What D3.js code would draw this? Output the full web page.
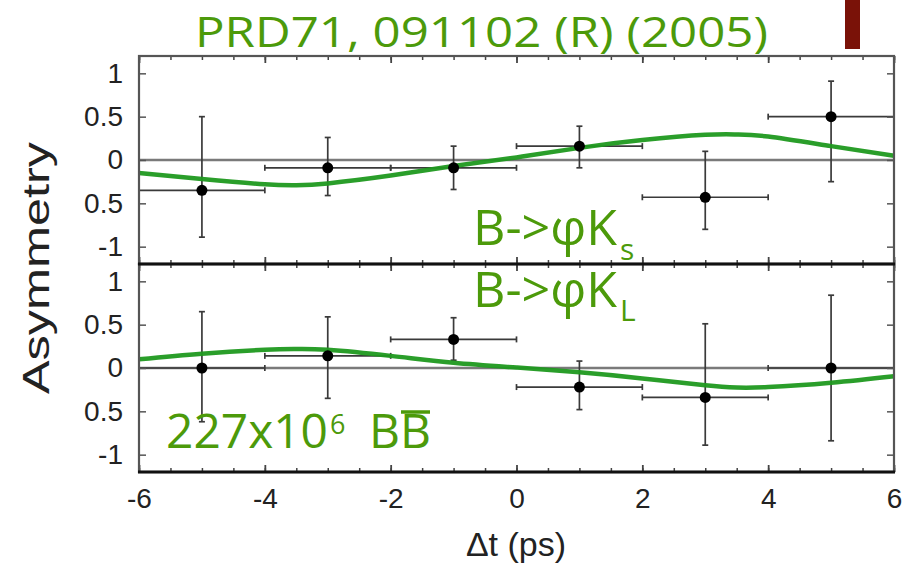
<!DOCTYPE html>
<html>
<head>
<meta charset="utf-8">
<script src="https://cdn.jsdelivr.net/npm/d3@7"></script>
<style>
  body { margin: 0; background: #fff; }
  svg { display: block; }
</style>
</head>
<body>
<script>
// bins in delta t (ps)
const binCenters = [-5, -3, -1, 1, 3, 5];
const binHalf = [1, 1, 1, 1, 1, 1];

// B -> phi Ks
const ksAsym = [-0.35, -0.09, -0.09, 0.16, -0.43, 0.50];
const ksHi   = [0.50, 0.26, 0.16, 0.39, 0.10, 0.91];
const ksLo   = [-0.89, -0.41, -0.34, -0.09, -0.80, -0.25];

// B -> phi KL
const klAsym = [0.00, 0.14, 0.33, -0.22, -0.34, 0.00];
const klHi   = [0.65, 0.59, 0.58, 0.08, 0.51, 0.84];
const klLo   = [-0.62, -0.35, 0.09, -0.48, -0.89, -0.84];

// fitted curves
const fitT  = [-6, -5, -4, -3.5, -3, -2, -1, 0, 1, 2, 3, 3.5, 4, 5, 6];
const ksFit = [-0.15, -0.22, -0.28, -0.29, -0.27, -0.18, -0.07, 0.03, 0.14, 0.23, 0.29, 0.295, 0.27, 0.16, 0.05];
const klFit = [0.10, 0.165, 0.21, 0.22, 0.21, 0.14, 0.06, 0.005, -0.05, -0.12, -0.20, -0.225, -0.22, -0.17, -0.095];

const xTicks = [-6, -4, -2, 0, 2, 4, 6];
const yTicks = [-1, -0.5, 0, 0.5, 1];
const yTickText = ['-1', '0.5', '0', '0.5', '1'];

const width = 910, height = 565;
const svg = d3.select('body').append('svg')
    .attr('width', width)
    .attr('height', height);

const x = d3.scaleLinear().domain([-6, 6]).range([139, 894]);
const yTop = d3.scaleLinear().domain([-1.2, 1.2]).range([264, 56]);
const yBot = d3.scaleLinear().domain([-1.2, 1.2]).range([472, 264]);

const labelFont = "'Liberation Sans', Arial, Helvetica, sans-serif";
const greenFont = "'Comic Sans MS', 'Open Sans', sans-serif";
const green = '#4c9a0a';

function panel(y, vals, hi, lo, fit) {
    const g = svg.append('g');

    // zero line
    g.append('line')
        .attr('x1', x(-6)).attr('x2', x(6))
        .attr('y1', y(0)).attr('y2', y(0))
        .attr('stroke', '#7a7a7a').attr('stroke-width', 2.5);

    const pts = binCenters.map((c, i) => ({c, h: binHalf[i], v: vals[i], hi: hi[i], lo: lo[i]}));
    const err = g.selectAll('g.err').data(pts).enter().append('g')
        .attr('stroke', '#3a3a3a').attr('stroke-width', 1.7);
    err.append('line')
        .attr('x1', d => x(d.c - d.h)).attr('x2', d => x(d.c + d.h))
        .attr('y1', d => y(d.v)).attr('y2', d => y(d.v));
    err.append('line')
        .attr('x1', d => x(d.c)).attr('x2', d => x(d.c))
        .attr('y1', d => y(d.hi)).attr('y2', d => y(d.lo));
    // caps
    err.append('line')
        .attr('x1', d => x(d.c) - 3).attr('x2', d => x(d.c) + 3)
        .attr('y1', d => y(d.hi)).attr('y2', d => y(d.hi));
    err.append('line')
        .attr('x1', d => x(d.c) - 3).attr('x2', d => x(d.c) + 3)
        .attr('y1', d => y(d.lo)).attr('y2', d => y(d.lo));
    err.append('line')
        .attr('x1', d => x(d.c - d.h)).attr('x2', d => x(d.c - d.h))
        .attr('y1', d => y(d.v) - 3).attr('y2', d => y(d.v) + 3);
    err.append('line')
        .attr('x1', d => x(d.c + d.h)).attr('x2', d => x(d.c + d.h))
        .attr('y1', d => y(d.v) - 3).attr('y2', d => y(d.v) + 3);

    const line = d3.line()
        .x((d, i) => x(fitT[i]))
        .y(d => y(d))
        .curve(d3.curveNatural);
    g.append('path')
        .attr('d', line(fit))
        .attr('fill', 'none')
        .attr('stroke', '#1f991f')
        .attr('stroke-width', 4.5)
        .attr('stroke-opacity', 0.95);

    g.selectAll('circle').data(pts).enter().append('circle')
        .attr('cx', d => x(d.c)).attr('cy', d => y(d.v))
        .attr('r', 5.5).attr('fill', '#000');

    // ticks, pointing inward
    const top = y.range()[1], bot = y.range()[0];
    const minor = d3.range(-6, 6.01, 0.5);
    [[d3.axisTop, top], [d3.axisBottom, bot]].forEach(([ax, pos]) => {
        g.append('g').attr('transform', `translate(0,${pos})`)
            .call(ax(x).tickValues(minor).tickSize(-4).tickFormat(''))
            .call(s => s.select('.domain').remove())
            .selectAll('line').attr('stroke', '#444').attr('stroke-width', 1.5);
        g.append('g').attr('transform', `translate(0,${pos})`)
            .call(ax(x).tickValues(xTicks).tickSize(-7).tickFormat(''))
            .call(s => s.select('.domain').remove())
            .selectAll('line').attr('stroke', '#444').attr('stroke-width', 1.8);
    });
    g.append('g').attr('transform', `translate(${x(-6)},0)`)
        .call(d3.axisLeft(y).tickValues(yTicks).tickSize(-7).tickPadding(16)
            .tickFormat((d, i) => yTickText[i]))
        .call(s => s.select('.domain').remove())
        .call(s => s.selectAll('line').attr('stroke', '#555').attr('stroke-width', 1.5))
        .call(s => s.selectAll('text')
            .attr('font-family', labelFont).attr('font-size', 28).attr('fill', '#222'));
    g.append('g').attr('transform', `translate(${x(6)},0)`)
        .call(d3.axisRight(y).tickValues(yTicks).tickSize(-7).tickFormat(''))
        .call(s => s.select('.domain').remove())
        .selectAll('line').attr('stroke', '#555').attr('stroke-width', 1.5);

    // frame
    g.append('rect')
        .attr('x', x(-6)).attr('y', top)
        .attr('width', x(6) - x(-6)).attr('height', bot - top)
        .attr('fill', 'none').attr('stroke', '#555').attr('stroke-width', 2.2);
    return g;
}

panel(yTop, ksAsym, ksHi, ksLo, ksFit);
const gb = panel(yBot, klAsym, klHi, klLo, klFit);

// darker shared edges
[264, 472].forEach(v => {
    svg.append('line')
        .attr('x1', x(-6) - 1).attr('x2', x(6) + 1)
        .attr('y1', v).attr('y2', v)
        .attr('stroke', '#111').attr('stroke-width', 3);
});

// x tick labels
gb.append('g').attr('transform', 'translate(0,472)')
    .call(d3.axisBottom(x).tickValues(xTicks).tickSize(0).tickPadding(16).tickFormat(d => String(d)))
    .call(s => s.select('.domain').remove())
    .selectAll('text')
    .attr('font-family', labelFont).attr('font-size', 28).attr('fill', '#222');

// axis titles
svg.append('text')
    .attr('x', 516).attr('y', 556)
    .attr('text-anchor', 'middle')
    .attr('font-family', labelFont).attr('font-size', 34).attr('fill', '#222')
    .text('Δt (ps)');

svg.append('text')
    .attr('transform', 'translate(49,268) rotate(-90)')
    .attr('text-anchor', 'middle')
    .attr('font-family', labelFont).attr('font-size', 36).attr('fill', '#222')
    .attr('textLength', 252).attr('lengthAdjust', 'spacingAndGlyphs')
    .text('Asymmetry');

// slide annotations
svg.append('rect')
    .attr('x', 845).attr('y', 0).attr('width', 15).attr('height', 49)
    .attr('fill', '#7a1208');

svg.append('text')
    .attr('x', 195).attr('y', 47)
    .attr('font-family', greenFont).attr('font-size', 42).attr('fill', green)
    .attr('textLength', 573).attr('lengthAdjust', 'spacingAndGlyphs')
    .text('PRD71, 091102 (R) (2005)');

function decay(yBase, sub, subDy) {
    const t = svg.append('text')
        .attr('x', 473).attr('y', yBase)
        .attr('font-family', greenFont).attr('fill', green);
    t.append('tspan').attr('font-size', 50)
        .attr('textLength', 144).attr('lengthAdjust', 'spacingAndGlyphs')
        .text('B->φK');
    t.append('tspan').attr('font-size', 30).attr('dy', subDy).attr('dx', 3).text(sub);
}
decay(245, 's', 15);
decay(307, 'L', 14);

const bb = svg.append('text')
    .attr('x', 166).attr('y', 448)
    .attr('font-family', greenFont).attr('fill', green);
bb.append('tspan').attr('font-size', 48)
    .attr('textLength', 162).attr('lengthAdjust', 'spacingAndGlyphs')
    .text('227x10');
bb.append('tspan').attr('font-size', 27).attr('dy', -14).attr('dx', 2).text('6');
bb.append('tspan').attr('font-size', 48).attr('dy', 14).attr('x', 369).text('BB');

// bar over the second B, placed from the glyph extent
const n = bb.node();
const nc = n.getNumberOfChars();
const b0 = n.getStartPositionOfChar(nc - 1).x;
const b1 = n.getEndPositionOfChar(nc - 1).x;
svg.append('line')
    .attr('x1', b0 + 1).attr('x2', b1 - 1)
    .attr('y1', 412).attr('y2', 412)
    .attr('stroke', green).attr('stroke-width', 3.5);
</script>
</body>
</html>
